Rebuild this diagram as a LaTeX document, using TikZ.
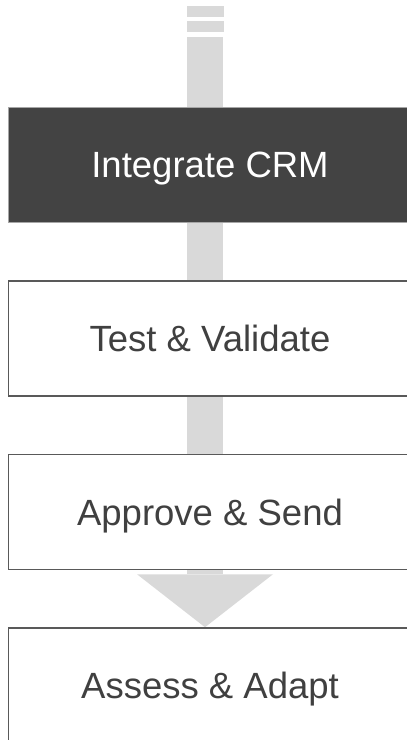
\documentclass[tikz,border=0pt]{standalone}
\usepackage{fontspec}
\setmainfont{Liberation Sans}
\usetikzlibrary{arrows.meta, backgrounds}
\definecolor{shaftgray}{HTML}{D9D9D9}
\definecolor{boxdark}{HTML}{434343}
\definecolor{textdark}{HTML}{404040}
\definecolor{edgegray}{HTML}{595959}
\begin{document}
\begin{tikzpicture}[x = 1pt, y = -1pt,
        stepbox/.style = {draw = edgegray, line width = 1.5pt, fill = white,
            minimum width = 403pt, minimum height = 115pt, inner sep = 0pt,
            text height = 26pt, text depth = 0pt,
            text = textdark, font = \fontsize{36.5}{40}\selectfont},
        darkbox/.style = {stepbox, fill = boxdark, draw = gray!70, text = white}]
            \useasboundingbox (0, 0) rectangle (407, 740);
            \clip (0, 0) rectangle (407, 740);
            \node [darkbox] (crm) at (210, 164.8) {Integrate CRM};
            \node [stepbox] (test) at (210, 338.5) {Test \& Validate};
            \node [stepbox] (approve) at (210, 512) {Approve \& Send};
            \node [stepbox] (assess) at (210, 685.5) {Assess \& Adapt};
            \coordinate (tail) at (205, 37);
            \coordinate (tip) at ([xshift = -5pt] assess.north);
            \begin{scope}[on background layer]
                \fill [shaftgray] (186.7, 6) rectangle (223.5, 16.7);
                \fill [shaftgray] (186.7, 21) rectangle (223.5, 31.7);
                \draw [shaftgray, line width = 36.5pt,
                    -{Triangle[width = 136pt, length = 53pt, line width = 0pt]}] (tail) -- (tip);
            \end{scope}
        \end{tikzpicture}
\end{document}
